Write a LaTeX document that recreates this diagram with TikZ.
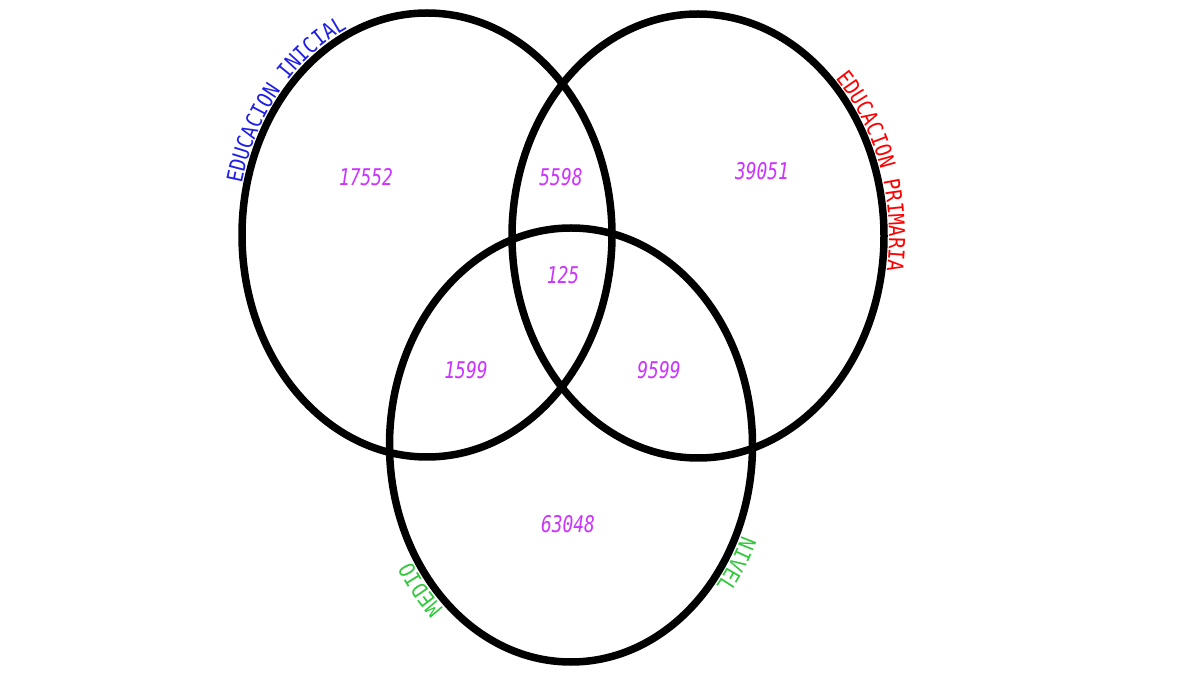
\documentclass[tikz,border=0pt]{standalone}
\usepackage{fontspec}
\usetikzlibrary{decorations.text}
\newfontfamily\lblfont[FakeStretch=0.86]{DejaVu Sans Mono}
\newfontfamily\numfont[FakeStretch=0.78]{DejaVu Sans Mono Oblique}
\definecolor{numcol}{RGB}{204,51,255}
\definecolor{lblblue}{RGB}{30,30,230}
\definecolor{lblred}{RGB}{255,0,0}
\definecolor{lblgreen}{RGB}{50,200,60}
\begin{document}
\begin{tikzpicture}[x=1pt,y=1pt,
  venn/.style={draw=black, line width=7.5pt},
  num/.style={text=numcol, font=\numfont\fontsize{23}{23}\selectfont, inner sep=0pt},
  lbl/.style={decorate, decoration={text along path, text color=#1}},
]
\useasboundingbox (0,0) rectangle (1200,675);
\fill[white] (0,0) rectangle (1200,675);
\coordinate (cL) at (427,440);
\coordinate (cR) at (698,439);
\coordinate (cB) at (571,230);
\draw[venn] (cL) ellipse [x radius=185, y radius=222];
\draw[venn] (cR) ellipse [x radius=186, y radius=222];
\draw[venn] (cB) ellipse [x radius=181.5, y radius=217];
% labels
\path[lbl=lblblue, decoration={text={|\lblfont\fontsize{22}{22}\selectfont|EDUCACION INICIAL}}]
  (cL) ++(167:190 and 227) arc[start angle=167, end angle=90, x radius=190, y radius=227];
\path[lbl=lblred, decoration={text={|\lblfont\fontsize{22}{22}\selectfont|EDUCACION PRIMARIA}}]
  (cR) ++(44:191 and 227) arc[start angle=44, end angle=-40, x radius=191, y radius=227];
\path[lbl=lblgreen, decoration={text={|\lblfont\fontsize{22}{22}\selectfont|NIVEL}}]
  (cB) ++(-24:187 and 223) arc[start angle=-24, end angle=-70, x radius=187, y radius=223];
\path[lbl=lblgreen, decoration={text={|\lblfont\fontsize{22}{22}\selectfont|MEDIO}}]
  (cB) ++(-133:187 and 223) arc[start angle=-133, end angle=-185, x radius=187, y radius=223];
% numbers
\node[num] (n17552) at (366,498) {17552};
\node[num] (n5598)  at (561,498) {5598};
\node[num] (n39051) at (762,504) {39051};
\node[num] (n125)   at (563,400) {125};
\node[num] (n1599)  at (466,305) {1599};
\node[num] (n9599)  at (659,305) {9599};
\node[num] (n63048) at (568,151) {63048};
\end{tikzpicture}
\end{document}
